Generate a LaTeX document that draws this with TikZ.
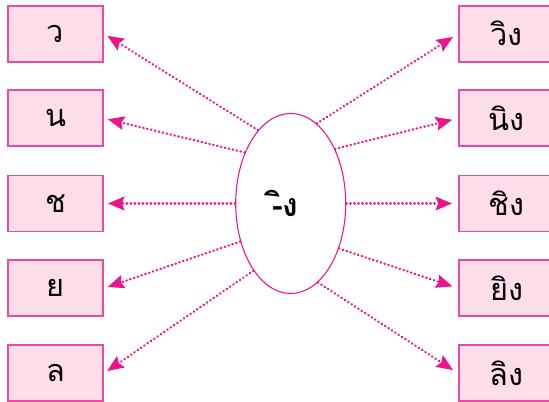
\documentclass[tikz,border=0pt]{standalone}
\usepackage{fontspec}
\newfontfamily\thaifont[Script=Thai]{Loma}
\usetikzlibrary{shapes.geometric,arrows.meta}
\definecolor{mag}{HTML}{EC148C}
\definecolor{boxline}{HTML}{EA4AA0}
\definecolor{boxfill}{HTML}{FDDDEA}
\begin{document}
\begin{tikzpicture}[x=0.75pt,y=-0.75pt,
 wordbox/.style={draw=boxline, fill=boxfill, line width=1.4pt, minimum width=71.25pt, minimum height=42pt, inner sep=0pt, font=\thaifont\fontsize{23}{27}\selectfont},
 hub/.style={ellipse, draw=mag, line width=0.8pt, minimum width=82.5pt, minimum height=135pt, inner sep=0pt, font=\thaifont\bfseries\fontsize{24}{28}\selectfont},
 link/.style={draw=mag, line width=1.7pt, line cap=round, dash pattern=on 0.4pt off 2.6pt, -{Stealth[length=12.5pt,width=10.5pt,inset=2pt,fill=mag,line width=0pt]}}
]
\clip (0,0) rectangle (549,402);
\node[hub] (hub) at (290.7,203.5) {-ิง\kern8pt};
\node[wordbox] (L1) at (55.5,33.7) {ว};
\node[wordbox] (L2) at (55.5,118.3) {น};
\node[wordbox] (L3) at (55.5,203.5) {ช};
\node[wordbox] (L4) at (55.5,288.3) {ย};
\node[wordbox] (L5) at (55.5,373.3) {ล};
\node[wordbox] (R1) at (506.5,33.7) {วิง};
\node[wordbox] (R2) at (506.5,118.3) {นิง};
\node[wordbox] (R3) at (506.5,203.5) {ชิง};
\node[wordbox] (R4) at (506.5,288.3) {ยิง};
\node[wordbox] (R5) at (506.5,373.3) {ลิง};
\draw[link, shorten >=3pt] (hub.114.7) -- (L1.east);
\draw[link, shorten >=3pt] (hub.132.7) -- (L2.east);
\draw[link, shorten >=3pt] (hub.180) -- (L3.east);
\draw[link, shorten >=3pt] (hub.217) -- (L4.east);
\draw[link, shorten >=3pt] (hub.241.4) -- (L5.east);
\draw[link, shorten >=4.5pt] (hub.72) -- (R1.west);
\draw[link, shorten >=4.5pt] (hub.51) -- (R2.west);
\draw[link, shorten >=4.5pt] (hub.0) -- (R3.west);
\draw[link, shorten >=4.5pt] (hub.-43) -- (R4.west);
\draw[link, shorten >=4.5pt] (hub.-71) -- (R5.west);
\end{tikzpicture}
\end{document}
